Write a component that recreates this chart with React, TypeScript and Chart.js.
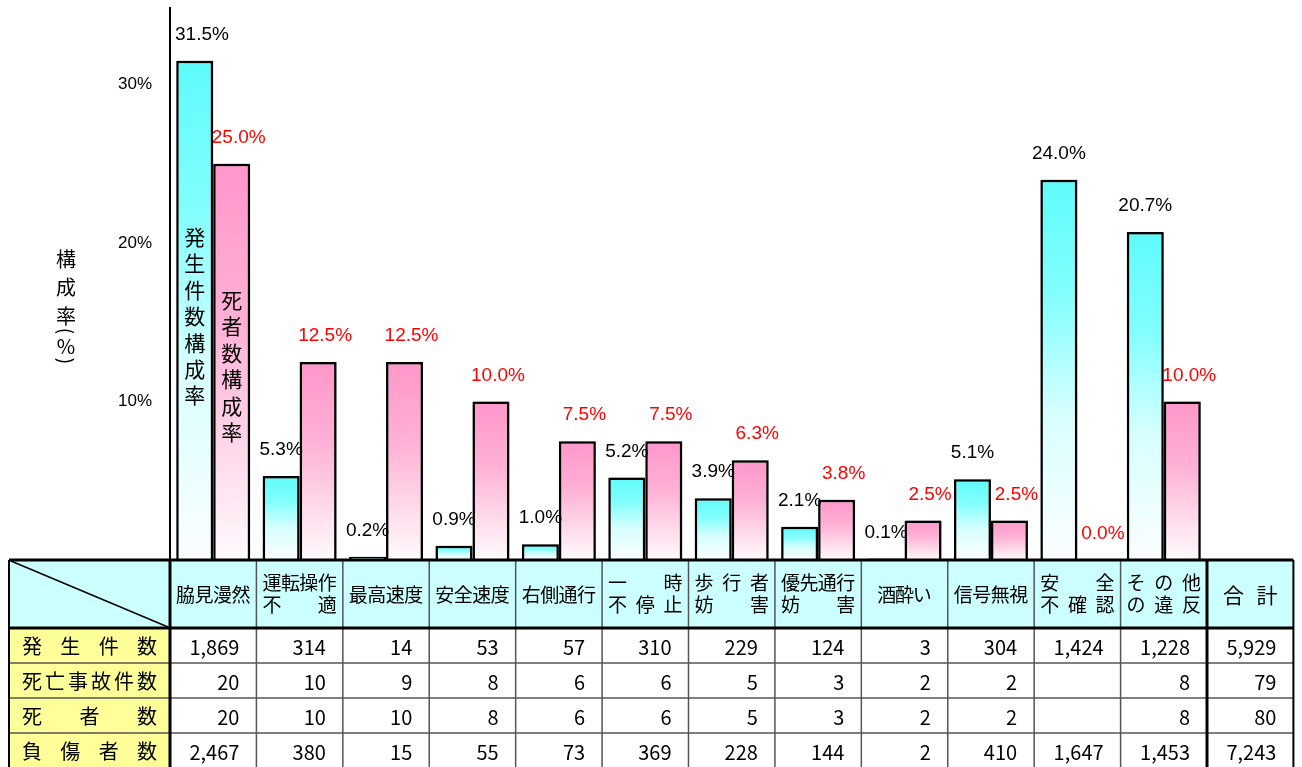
import { useEffect, useRef } from 'react';
import { Chart, registerables } from 'chart.js';

Chart.register(...registerables);

// ---------- data ----------
const categories = ['脇見漫然', '運転操作不適', '最高速度', '安全速度', '右側通行', '一時不停止', '歩行者妨害', '優先通行妨害', '酒酔い', '信号無視', '安全不確認', 'その他の違反'];
const headerLines = [['脇見漫然'], ['運転操作', '不適'], ['最高速度'], ['安全速度'], ['右側通行'], ['一時', '不停止'], ['歩行者', '妨害'], ['優先通行', '妨害'], ['酒酔い'], ['信号無視'], ['安全', '不確認'], ['その他', 'の違反']];
const totalHeader = '合計';
const seriesNames = ['発生件数構成率', '死者数構成率'];
const incidentShare = [31.5, 5.3, 0.2, 0.9, 1.0, 5.2, 3.9, 2.1, 0.1, 5.1, 24.0, 20.7];
const deathShare = [25.0, 12.5, 12.5, 10.0, 7.5, 7.5, 6.3, 3.8, 2.5, 2.5, 0.0, 10.0];
const yTicks = [10, 20, 30];
const yMax = 34.83;
const axisTitle = '構成率(%)';

const rowLabels = ['発生件数', '死亡事故件数', '死者数', '負傷者数'];
const incidents = [1869, 314, 14, 53, 57, 310, 229, 124, 3, 304, 1424, 1228];
const fatalAccidents = [20, 10, 9, 8, 6, 6, 5, 3, 2, 2, null, 8];
const deaths = [20, 10, 10, 8, 6, 6, 5, 3, 2, 2, null, 8];
const injured = [2467, 380, 15, 55, 73, 369, 228, 144, 2, 410, 1647, 1453];
const totals = [5929, 79, 80, 7243];

// ---------- styles ----------
const JP = '"Noto Sans CJK JP", sans-serif';
const LAT = '"Liberation Sans", Arial, sans-serif';
const cyanStops: [number, string][] = [[0, '#5efbfb'], [0.3, '#82fefe'], [0.62, '#d8ffff'], [1, '#fbfdff']];
const pinkStops: [number, string][] = [[0, '#ff97ca'], [0.4, '#ffb0d6'], [0.75, '#ffdcec'], [1, '#fffafd']];

function gradientFill(stops: [number, string][]) {
  return (c: any) => {
    const chart = c.chart;
    const y = chart.scales && chart.scales.y;
    if (!chart.chartArea || !y || c.type !== 'data') return stops[0][1];
    const top = y.getPixelForValue(c.raw);
    const bottom = y.getPixelForValue(0);
    if (bottom - top < 1) return stops[0][1];
    const g = chart.ctx.createLinearGradient(0, top, 0, bottom);
    stops.forEach(([o, col]) => g.addColorStop(o, col));
    return g;
  };
}

function distribute(ctx: CanvasRenderingContext2D, text: string, left: number, right: number, cy: number) {
  const chars = Array.from(text);
  const w = chars.map((ch) => ctx.measureText(ch).width);
  if (chars.length === 1) {
    ctx.fillText(chars[0], (left + right) / 2, cy);
    return;
  }
  const s = left + w[0] / 2;
  const e = right - w[w.length - 1] / 2;
  chars.forEach((ch, i) => ctx.fillText(ch, s + ((e - s) * i) / (chars.length - 1), cy));
}

const fmt = (v: number | null) => (v === null ? '' : v.toLocaleString('en-US'));

const shadowPlugin = {
  id: 'barShadow',
  beforeDatasetsDraw(chart: any) {
    const c = chart.ctx;
    c.save();
    c.shadowColor = 'rgba(0,0,0,0.5)';
    c.shadowBlur = 5;
    c.shadowOffsetX = 1;
    c.shadowOffsetY = 0;
  },
  afterDatasetsDraw(chart: any) {
    chart.ctx.restore();
  },
};

const labelPlugin = {
  id: 'barLabels',
  afterDatasetsDraw(chart: any) {
    const c = chart.ctx;
    const area = chart.chartArea;
    c.save();
    c.textAlign = 'center';
    c.textBaseline = 'middle';
    c.font = `19px ${LAT}`;
    chart.data.datasets.forEach((ds: any, di: number) => {
      const meta = chart.getDatasetMeta(di);
      c.fillStyle = di === 0 ? '#000000' : '#ff0000';
      meta.data.forEach((bar: any, i: number) => {
        const v = ds.data[i];
        const txt = v.toFixed(1) + '%';
        const w = c.measureText(txt).width;
        let x = bar.x + (di === 0 ? 0 : 7);
        x = Math.max(x, area.left + 5 + w / 2);
        c.fillText(txt, x, bar.y - 26);
      });
    });
    // series names written vertically inside the first pair of bars
    c.fillStyle = '#000';
    c.font = `21px ${JP}`;
    const bottom = area.bottom;
    const starts = [bottom - 323, bottom - 260];
    chart.data.datasets.forEach((ds: any, di: number) => {
      const bar = chart.getDatasetMeta(di).data[0];
      Array.from(ds.label as string).forEach((ch, k) => c.fillText(ch, bar.x, starts[di] + k * 26.4));
    });
    c.restore();
  },
};

const titlePlugin = {
  id: 'yTitle',
  afterDraw(chart: any) {
    const c = chart.ctx;
    c.save();
    c.textAlign = 'center';
    c.textBaseline = 'middle';
    c.fillStyle = '#000';
    const x = 66;
    const centers = [259, 287, 316, 331, 346, 361];
    Array.from(axisTitle).forEach((ch, i) => {
      const y = centers[i];
      if (ch === '(' || ch === ')') {
        c.save();
        c.font = `19px ${JP}`;
        c.translate(x, y);
        c.rotate(Math.PI / 2);
        c.fillText(ch, 0, 0);
        c.restore();
      } else {
        c.font = `20px ${JP}`;
        c.fillText(ch, x, y);
      }
    });
    c.restore();
  },
};

const tablePlugin = {
  id: 'dataTable',
  afterDraw(chart: any) {
    const c: CanvasRenderingContext2D = chart.ctx;
    const area = chart.chartArea;
    const n = categories.length;
    const colW = (area.right - area.left) / n;
    const L = 9;
    const C0 = area.left;
    const CT = area.right;
    const R = CT + colW;
    const top = area.bottom;
    const headH = 68;
    const rowH = 35;
    const rows = [incidents, fatalAccidents, deaths, injured];
    const bottom = top + headH + rowH * rows.length;
    c.save();
    // fills
    c.fillStyle = '#ccffff';
    c.fillRect(L, top, R - L, headH);
    c.fillStyle = '#ffff99';
    c.fillRect(L, top + headH, C0 - L, rowH * rows.length);
    c.fillStyle = '#ffffff';
    c.fillRect(C0, top + headH, R - C0, rowH * rows.length);

    // thin lines
    c.strokeStyle = '#555';
    c.lineWidth = 1.5;
    c.beginPath();
    for (let r = 1; r < rows.length; r++) {
      const y = top + headH + r * rowH;
      c.moveTo(L, y);
      c.lineTo(R, y);
    }
    for (let i = 1; i < n; i++) {
      const x = C0 + i * colW;
      c.moveTo(x, top);
      c.lineTo(x, bottom);
    }
    c.stroke();

    // diagonal
    c.strokeStyle = '#000';
    c.lineWidth = 1.5;
    c.beginPath();
    c.moveTo(L + 2, top + 1);
    c.lineTo(C0 - 2, top + headH - 1);
    c.stroke();

    // thick lines
    c.strokeStyle = '#000';
    c.lineWidth = 3;
    c.beginPath();
    c.moveTo(L, top);
    c.lineTo(R, top);
    c.moveTo(L, top + headH);
    c.lineTo(R, top + headH);
    c.moveTo(C0, top);
    c.lineTo(C0, bottom);
    c.moveTo(CT, top);
    c.lineTo(CT, bottom);
    c.stroke();
    c.lineWidth = 2;
    c.beginPath();
    c.moveTo(L, top);
    c.lineTo(L, bottom);
    c.moveTo(R, top);
    c.lineTo(R, bottom);
    c.stroke();

    // header text
    c.fillStyle = '#000';
    c.textAlign = 'center';
    c.textBaseline = 'middle';
    c.font = `19px ${JP}`;
    const headCells = [...headerLines, [totalHeader]];
    headCells.forEach((lines, i) => {
      const left = C0 + i * colW;
      const right = left + colW;
      const single = lines.length === 1;
      const pad = single && Array.from(lines[0]).length <= 3 ? 16 : 6;
      if (i === n) c.font = `21px ${JP}`;
      lines.forEach((ln, k) => {
        const cy = single ? top + headH / 2 + 1 : top + 23 + k * 22;
        distribute(c, ln, left + pad, right - pad, cy);
      });
    });

    // row labels
    c.font = `20px ${JP}`;
    rowLabels.forEach((lab, r) => {
      const cy = top + headH + r * rowH + rowH / 2 + 1;
      distribute(c, lab, 22, 157, cy);
    });

    // values
    c.font = `20px ${JP}`;
    c.textAlign = 'right';
    rows.forEach((vals, r) => {
      const cy = top + headH + r * rowH + rowH / 2 + 2;
      vals.forEach((v, i) => {
        c.fillText(fmt(v), C0 + (i + 1) * colW - 17, cy);
      });
      c.fillText(fmt(totals[r]), R - 17, cy);
    });
    c.restore();
  },
};

export default function App() {
  const ref = useRef<HTMLCanvasElement | null>(null);
  useEffect(() => {
    if (!ref.current) return;
    const chart = new Chart(ref.current, {
      type: 'bar',
      data: {
        labels: categories,
        datasets: [
          {
            label: seriesNames[0],
            data: incidentShare,
            backgroundColor: gradientFill(cyanStops) as any,
            borderColor: '#000',
            borderWidth: 2.5,
            categoryPercentage: 0.856,
            barPercentage: 1,
          },
          {
            label: seriesNames[1],
            data: deathShare,
            backgroundColor: gradientFill(pinkStops) as any,
            borderColor: '#000',
            borderWidth: 2.5,
            categoryPercentage: 0.856,
            barPercentage: 1,
          },
        ],
      },
      options: {
        responsive: false,
        animation: false,
        layout: { padding: { top: 8, right: 95, bottom: 207, left: 0 } },
        plugins: { legend: { display: false }, tooltip: { enabled: false } },
        scales: {
          x: { display: false },
          y: {
            min: 0,
            max: yMax,
            afterBuildTicks: (s: any) => {
              s.ticks = yTicks.map((v) => ({ value: v }));
            },
            afterFit: (s: any) => {
              s.width = 170;
              s.paddingTop = 0;
              s.paddingBottom = 0;
            },
            grid: { display: false, drawTicks: false },
            border: { display: true, color: '#000', width: 2 },
            ticks: {
              padding: 18,
              color: '#000',
              font: { family: LAT, size: 17 },
              callback: (v: any) => v + '%',
            },
          },
        },
      },
      plugins: [shadowPlugin, labelPlugin, tablePlugin, titlePlugin],
    });
    return () => chart.destroy();
  }, []);
  return (
    <div style={{ position: 'absolute', left: 0, top: 0, width: 1302, height: 767, background: '#fff' }}>
      <canvas ref={ref} width={1302} height={767} style={{ display: 'block' }} />
    </div>
  );
}
